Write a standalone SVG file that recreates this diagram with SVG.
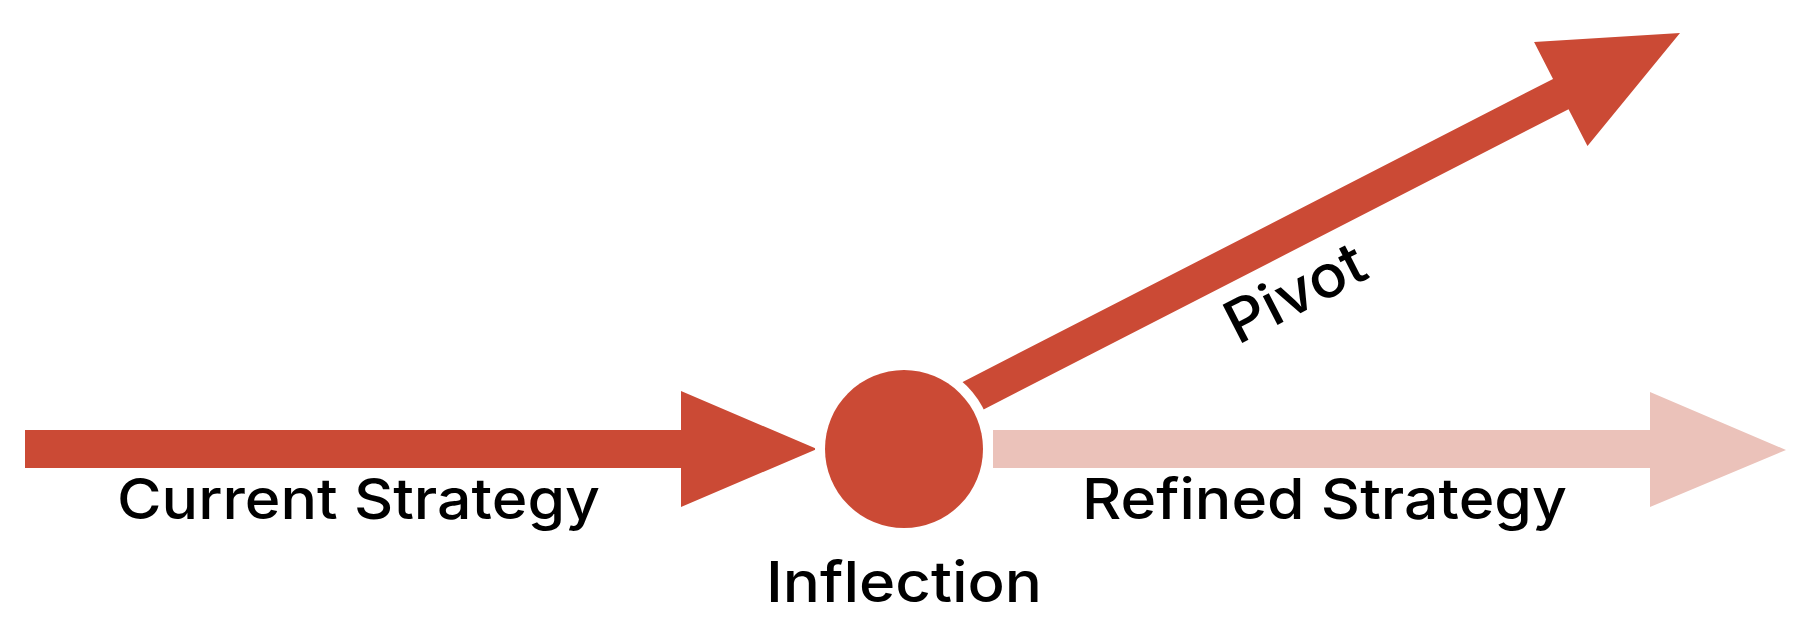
<svg xmlns="http://www.w3.org/2000/svg" width="1794" height="624" viewBox="0 0 1794 624">
  <style>
    .red { fill: #CB4A35; }
    .pale { fill: #EBC2BA; }
    .lbl { font-family: Inter, "Liberation Sans", sans-serif; font-size: 56px; fill: #000; font-weight: 500; }
  </style>
  <rect width="1794" height="624" fill="#ffffff"/>
  <g id="connectors">
    <polygon id="arrow-current" class="red" points="25,430 681,430 681,391 817,449 681,507 681,468 25,468"/>
    <polygon id="arrow-refined" class="pale" points="993,430 1650,430 1650,392 1786,450 1650,507 1650,468 993,468"/>
    <g id="arrow-pivot" transform="translate(974.5,395) rotate(-27.17)">
      <polygon class="red" points="-40,-17 659,-17 659,-58.5 793,0 659,58.5 659,17 -40,17"/>
    </g>
  </g>
  <g id="inflection">
    <circle cx="904" cy="449" r="89" fill="#ffffff"/>
    <circle class="red" cx="904" cy="449" r="79"/>
    <text class="lbl" x="766" y="602" textLength="276" lengthAdjust="spacingAndGlyphs">Inflection</text>
  </g>
  <g id="current-strategy">
    <text class="lbl" x="117" y="519" textLength="483" lengthAdjust="spacingAndGlyphs">Current Strategy</text>
  </g>
  <g id="refined-strategy">
    <text class="lbl" x="1082" y="519" textLength="485" lengthAdjust="spacingAndGlyphs">Refined Strategy</text>
  </g>
  <g id="pivot">
    <text class="lbl" transform="translate(974.5,395) rotate(-27.17)" x="332" y="76" text-anchor="middle" style="font-size:59px" textLength="150" lengthAdjust="spacingAndGlyphs">Pivot</text>
  </g>
</svg>
